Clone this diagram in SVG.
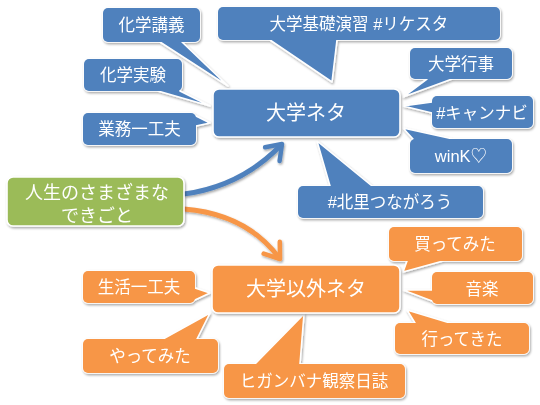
<svg xmlns="http://www.w3.org/2000/svg" width="540" height="405" viewBox="0 0 540 405">
<style>
.b{fill:#4F81BD}
.o{fill:#F79646}
.g{fill:#9BBB59}
.s{stroke:#FFFFFF;stroke-width:1.6;stroke-linejoin:round}
.n{stroke:none}
text{fill:#FFFFFF;font-family:"Liberation Sans","Noto Sans CJK JP",sans-serif;text-anchor:middle;font-size:16.5px}
.big{font-size:20px}
.mid{font-size:18px}
.call{filter:url(#sh)}
</style>
<defs>
<filter id="sh" x="-20%" y="-20%" width="140%" height="150%">
<feDropShadow dx="1" dy="1.5" stdDeviation="1.3" flood-color="#000" flood-opacity="0.35"/>
</filter>
<marker id="ab" markerUnits="userSpaceOnUse" markerWidth="30" markerHeight="30" refX="22" refY="15" orient="auto">
<path d="M8,5 L22,15 L8,25" fill="none" stroke="#4F81BD" stroke-width="4.5" stroke-linecap="round" stroke-linejoin="round"/>
</marker>
<marker id="ao" markerUnits="userSpaceOnUse" markerWidth="30" markerHeight="30" refX="22" refY="15" orient="auto">
<path d="M8,5 L22,15 L8,25" fill="none" stroke="#F79646" stroke-width="4.5" stroke-linecap="round" stroke-linejoin="round"/>
</marker>
</defs>

<g id="connectors" filter="url(#sh)">
<path d="M184,194 Q242,186 282,144" fill="none" stroke="#4F81BD" stroke-width="5" marker-end="url(#ab)"/>
<path d="M184,209 Q247,214 280,259" fill="none" stroke="#F79646" stroke-width="5" marker-end="url(#ao)"/>
</g>

<!-- blue callouts -->
<g id="n-kagaku-kougi" class="call">
<rect x="103" y="8" width="97" height="34" rx="5" class="b s"/>
<polygon points="160,42 228,86 182,42 182,36 160,36" class="b s"/>
<rect x="103" y="8" width="97" height="34" rx="5" class="b n"/>
<text x="151.5" y="31">化学講義</text>
</g>
<g id="n-kagaku-jikken" class="call">
<rect x="84" y="59" width="98" height="32" rx="5" class="b s"/>
<polygon points="158,91 210,106 180,91 180,85 158,85" class="b s"/>
<rect x="84" y="59" width="98" height="32" rx="5" class="b n"/>
<text x="133" y="81">化学実験</text>
</g>
<g id="n-gyoumu" class="call">
<rect x="83" y="113" width="113" height="32" rx="5" class="b s"/>
<polygon points="196,116 210,123 196,126 190,126 190,116" class="b s"/>
<rect x="83" y="113" width="113" height="32" rx="5" class="b n"/>
<text x="139.5" y="135">業務一工夫</text>
</g>
<g id="n-kiso" class="call">
<rect x="218" y="7" width="282" height="33" rx="5" class="b s"/>
<polygon points="270,40 332,82 337,40 337,34 270,34" class="b s"/>
<rect x="218" y="7" width="282" height="33" rx="5" class="b n"/>
<text x="359" y="30">大学基礎演習 #リケスタ</text>
</g>
<g id="n-gyouji" class="call">
<rect x="410" y="48" width="102" height="31" rx="5" class="b s"/>
<polygon points="427,79 403,97 452,79 452,73 427,73" class="b s"/>
<rect x="410" y="48" width="102" height="31" rx="5" class="b n"/>
<text x="461" y="70">大学行事</text>
</g>
<g id="n-canavi" class="call">
<rect x="432" y="96" width="101" height="32" rx="5" class="b s"/>
<polygon points="432,102 403,106 432,113 438,113 438,102" class="b s"/>
<rect x="432" y="96" width="101" height="32" rx="5" class="b n"/>
<text x="482" y="119">#キャンナビ</text>
</g>
<g id="n-wink" class="call">
<rect x="410" y="139" width="102" height="34" rx="5" class="b s"/>
<polygon points="413,139 403,128 453,139 453,145 413,145" class="b s"/>
<rect x="410" y="139" width="102" height="34" rx="5" class="b n"/>
<text x="461" y="162">winK♡</text>
</g>
<g id="n-kitasato" class="call">
<rect x="298" y="186" width="185" height="32" rx="5" class="b s"/>
<polygon points="330,186 317,141 372,186 372,192 330,192" class="b s"/>
<rect x="298" y="186" width="185" height="32" rx="5" class="b n"/>
<text x="390" y="208">#北里つながろう</text>
</g>
<g id="n-daigaku-neta" class="call">
<rect x="213" y="89" width="187" height="48" rx="6" class="b s"/>
<text x="306" y="120" class="big">大学ネタ</text>
</g>

<!-- green -->
<g id="n-jinsei" class="call">
<rect x="7" y="177" width="177" height="49" rx="6" class="g s"/>
<text class="mid"><tspan x="97" y="199">人生のさまざまな</tspan><tspan x="97" y="222">できごと</tspan></text>
</g>

<!-- orange callouts -->
<g id="n-seikatsu" class="call">
<rect x="83" y="271" width="112" height="32" rx="5" class="o s"/>
<polygon points="195,288 210,293 195,300 189,300 189,288" class="o s"/>
<rect x="83" y="271" width="112" height="32" rx="5" class="o n"/>
<text x="139" y="293">生活一工夫</text>
</g>
<g id="n-yattemita" class="call">
<rect x="83" y="339" width="135" height="34" rx="5" class="o s"/>
<polygon points="163,339 210,313 197,339 197,345 163,345" class="o s"/>
<rect x="83" y="339" width="135" height="34" rx="5" class="o n"/>
<text x="150" y="362">やってみた</text>
</g>
<g id="n-higanbana" class="call">
<rect x="224" y="364" width="181" height="34" rx="5" class="o s"/>
<polygon points="255,364 304,314 300,364 300,370 255,370" class="o s"/>
<rect x="224" y="364" width="181" height="34" rx="5" class="o n"/>
<text x="314" y="387">ヒガンバナ観察日誌</text>
</g>
<g id="n-kattemita" class="call">
<rect x="389" y="227" width="133" height="34" rx="5" class="o s"/>
<polygon points="407,261 403,272 443,261 443,255 407,255" class="o s"/>
<rect x="389" y="227" width="133" height="34" rx="5" class="o n"/>
<text x="455" y="250">買ってみた</text>
</g>
<g id="n-ongaku" class="call">
<rect x="432" y="272" width="101" height="32" rx="5" class="o s"/>
<polygon points="432,290 403,290 432,301 438,301 438,290" class="o s"/>
<rect x="432" y="272" width="101" height="32" rx="5" class="o n"/>
<text x="482" y="295">音楽</text>
</g>
<g id="n-ittekita" class="call">
<rect x="395" y="323" width="134" height="31" rx="5" class="o s"/>
<polygon points="415,323 407,310 450,323 450,329 415,329" class="o s"/>
<rect x="395" y="323" width="134" height="31" rx="5" class="o n"/>
<text x="462" y="345">行ってきた</text>
</g>
<g id="n-igai-neta" class="call">
<rect x="212" y="265" width="188" height="48" rx="6" class="o s"/>
<text x="306" y="296" class="big">大学以外ネタ</text>
</g>
</svg>
